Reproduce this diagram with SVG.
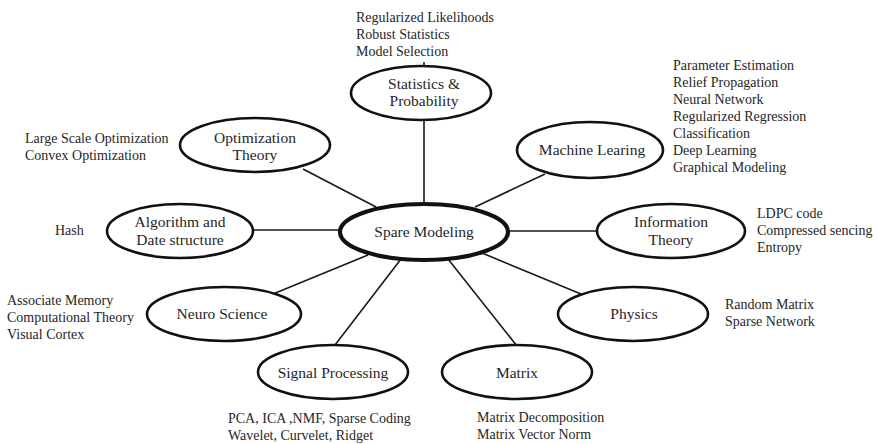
<svg xmlns="http://www.w3.org/2000/svg" width="878" height="444" viewBox="0 0 878 444">
<style>
.bg{fill:#fff}
.n{fill:#fff;stroke:#111;stroke-width:2.6}
.c{fill:#fff;stroke:#111;stroke-width:4.2}
.e{stroke:#1a1a1a;stroke-width:1.6;fill:none}
.l{font-family:"Liberation Serif","Times New Roman",serif;font-size:15.5px;fill:#262626;text-anchor:middle}
.t{font-family:"Liberation Serif","Times New Roman",serif;font-size:14px;fill:#262626}
</style>
<rect class="bg" width="878" height="444"/>
<g id="connectors">
<line class="e" x1="424" y1="62" x2="424" y2="204"/>
<line class="e" x1="303" y1="169" x2="376" y2="207"/>
<line class="e" x1="253" y1="230" x2="341" y2="230"/>
<line class="e" x1="368" y1="255" x2="273" y2="294"/>
<line class="e" x1="401" y1="259" x2="335" y2="345"/>
<line class="e" x1="448" y1="259" x2="517" y2="346"/>
<line class="e" x1="482" y1="253" x2="581" y2="294"/>
<line class="e" x1="507" y1="231" x2="597" y2="231"/>
<line class="e" x1="475" y1="207" x2="545" y2="174"/>
</g>
<g id="stats">
<ellipse class="n" cx="421" cy="93" rx="70" ry="27"/>
<text class="l" x="424" y="89">Statistics &amp;</text>
<text class="l" x="424" y="106">Probability</text>
<text class="t" x="356" y="22">Regularized Likelihoods</text>
<text class="t" x="356" y="39">Robust Statistics</text>
<text class="t" x="356" y="56">Model Selection</text>
</g>
<g id="optimization">
<ellipse class="n" cx="255" cy="145" rx="75" ry="27"/>
<text class="l" x="255" y="143">Optimization</text>
<text class="l" x="255" y="160">Theory</text>
<text class="t" x="25" y="143">Large Scale Optimization</text>
<text class="t" x="25" y="160">Convex Optimization</text>
</g>
<g id="algorithm">
<ellipse class="n" cx="180" cy="231" rx="73" ry="27"/>
<text class="l" x="180" y="227">Algorithm and</text>
<text class="l" x="180" y="245">Date structure</text>
<text class="t" x="55" y="235">Hash</text>
</g>
<g id="neuro">
<ellipse class="n" cx="224" cy="314" rx="77" ry="27"/>
<text class="l" x="222" y="319">Neuro Science</text>
<text class="t" x="7" y="305">Associate Memory</text>
<text class="t" x="7" y="322">Computational Theory</text>
<text class="t" x="7" y="339">Visual Cortex</text>
</g>
<g id="signal">
<ellipse class="n" cx="333" cy="372" rx="75" ry="27"/>
<text class="l" x="333" y="378">Signal Processing</text>
<text class="t" x="228" y="423">PCA, ICA ,NMF, Sparse Coding</text>
<text class="t" x="228" y="440">Wavelet, Curvelet, Ridget</text>
</g>
<g id="matrix">
<ellipse class="n" cx="517" cy="372" rx="75" ry="27"/>
<text class="l" x="517" y="378">Matrix</text>
<text class="t" x="477" y="422">Matrix Decomposition</text>
<text class="t" x="477" y="439">Matrix Vector Norm</text>
</g>
<g id="physics">
<ellipse class="n" cx="633" cy="314" rx="75" ry="27"/>
<text class="l" x="634" y="319">Physics</text>
<text class="t" x="725" y="309">Random Matrix</text>
<text class="t" x="725" y="326">Sparse Network</text>
</g>
<g id="information">
<ellipse class="n" cx="671" cy="231" rx="74" ry="27"/>
<text class="l" x="671" y="227">Information</text>
<text class="l" x="671" y="245">Theory</text>
<text class="t" x="757" y="218">LDPC code</text>
<text class="t" x="757" y="235">Compressed sencing</text>
<text class="t" x="757" y="252">Entropy</text>
</g>
<g id="machine">
<ellipse class="n" cx="590" cy="150" rx="73" ry="28"/>
<text class="l" x="592" y="155">Machine Learing</text>
<text class="t" x="673" y="70">Parameter Estimation</text>
<text class="t" x="673" y="87">Relief Propagation</text>
<text class="t" x="673" y="104">Neural Network</text>
<text class="t" x="673" y="121">Regularized Regression</text>
<text class="t" x="673" y="138">Classification</text>
<text class="t" x="673" y="155">Deep Learning</text>
<text class="t" x="673" y="172">Graphical Modeling</text>
</g>
<g id="center">
<ellipse class="c" cx="424" cy="232" rx="84" ry="28"/>
<text class="l" x="424" y="237">Spare Modeling</text>
</g>
</svg>
